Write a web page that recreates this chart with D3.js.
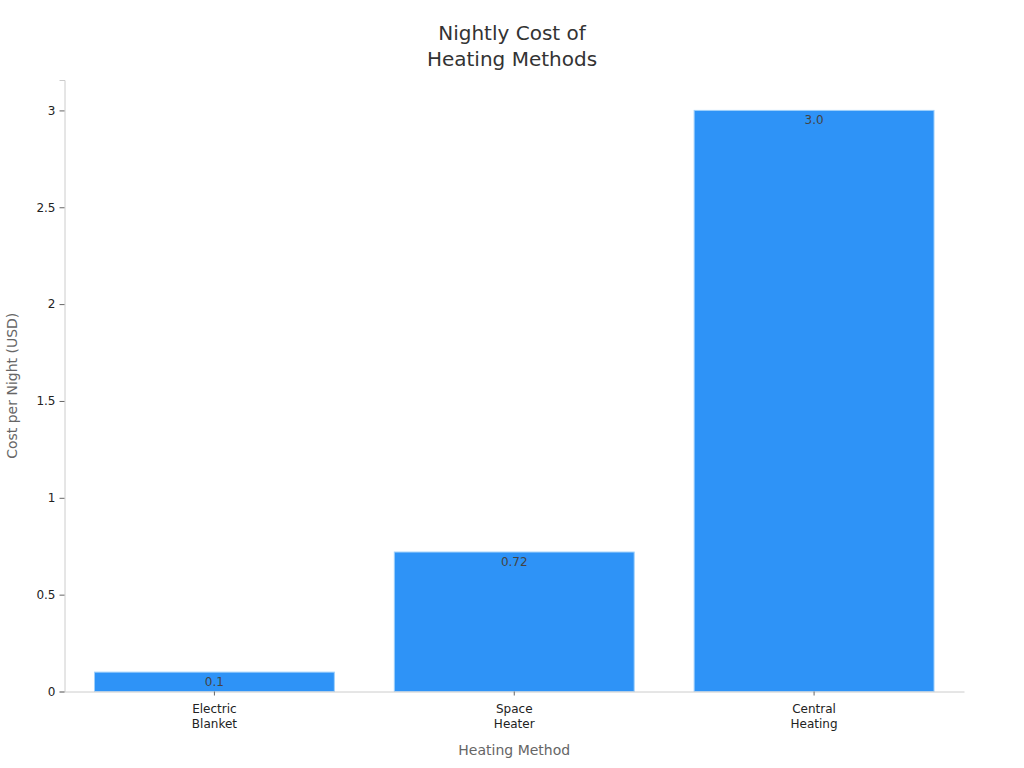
<!DOCTYPE html>
<html>
<head>
<meta charset="utf-8">
<script src="https://cdn.jsdelivr.net/npm/d3@7"></script>
<style>
  body { margin: 0; background: #fff; }
  svg text { font-family: "DejaVu Sans", sans-serif; }
</style>
</head>
<body>
<div id="chart"></div>
<script>
// chart data
const categories = ['Electric\nBlanket', 'Space\nHeater', 'Central\nHeating'];
const costs = [0.1, 0.72, 3.0];
const costLabels = ['0.1', '0.72', '3.0'];
const yTicks = [0, 0.5, 1, 1.5, 2, 2.5, 3];

const width = 1024, height = 768;
const margin = { top: 80, right: 60, bottom: 76.5, left: 64.5 };

const svg = d3.select('#chart').append('svg')
  .attr('width', width)
  .attr('height', height);

const x = d3.scaleBand()
  .domain(categories)
  .range([margin.left, width - margin.right])
  .paddingInner(0.2)
  .paddingOuter(0.1);

const y = d3.scaleLinear()
  .domain([0, 3.157])
  .range([height - margin.bottom, margin.top]);

// title
svg.append('text')
  .attr('x', 512).attr('y', 40)
  .attr('text-anchor', 'middle')
  .attr('font-size', 20)
  .attr('fill', '#333')
  .selectAll('tspan')
  .data(['Nightly Cost of', 'Heating Methods'])
  .join('tspan')
  .attr('x', 512)
  .attr('dy', (d, i) => i ? 26 : 0)
  .text(d => d);

// bars
svg.append('g').selectAll('rect')
  .data(costs)
  .join('rect')
  .attr('x', (d, i) => x(categories[i]))
  .attr('y', d => y(d))
  .attr('width', x.bandwidth())
  .attr('height', d => y(0) - y(d))
  .attr('fill', '#2e93f7')
  .attr('stroke', '#9fd0fb')
  .attr('stroke-width', 1);

svg.append('g').selectAll('text')
  .data(costs)
  .join('text')
  .attr('x', (d, i) => x(categories[i]) + x.bandwidth() / 2)
  .attr('y', d => y(d) + 14)
  .attr('text-anchor', 'middle')
  .attr('font-size', 12)
  .attr('fill', '#444')
  .text((d, i) => costLabels[i]);

// y axis
const yAxis = svg.append('g')
  .attr('transform', `translate(${margin.left},0)`)
  .call(d3.axisLeft(y).tickValues(yTicks).tickSize(5).tickPadding(4)
    .tickFormat(d3.format('')));
yAxis.select('.domain').attr('stroke', '#ccc');
yAxis.selectAll('.tick line').attr('stroke', '#666');
yAxis.selectAll('.tick text').attr('font-size', 12).attr('fill', '#222')
  .style('font-family', '"DejaVu Sans", sans-serif');

// x axis
const xAxis = svg.append('g')
  .attr('transform', `translate(0,${y(0)})`)
  .call(d3.axisBottom(x).tickSize(4).tickPadding(9).tickSizeOuter(0));
xAxis.select('.domain').attr('stroke', '#ccc');
xAxis.selectAll('.tick line').attr('stroke', '#666');
xAxis.selectAll('.tick text').each(function (d) {
  const t = d3.select(this).text(null)
    .attr('font-size', 12).attr('fill', '#222')
    .style('font-family', '"DejaVu Sans", sans-serif');
  d.split('\n').forEach((line, i) => {
    t.append('tspan').attr('x', 0).attr('dy', i ? '1.25em' : '0.71em').text(line);
  });
});

// axis titles
svg.append('text')
  .attr('x', x.range()[0] + (x.range()[1] - x.range()[0]) / 2)
  .attr('y', 755)
  .attr('text-anchor', 'middle')
  .attr('font-size', 14)
  .attr('fill', '#666')
  .text('Heating Method');

svg.append('text')
  .attr('transform', `translate(17,${(margin.top + y(0)) / 2}) rotate(-90)`)
  .attr('text-anchor', 'middle')
  .attr('font-size', 14)
  .attr('fill', '#666')
  .text('Cost per Night (USD)');
</script>
</body>
</html>
